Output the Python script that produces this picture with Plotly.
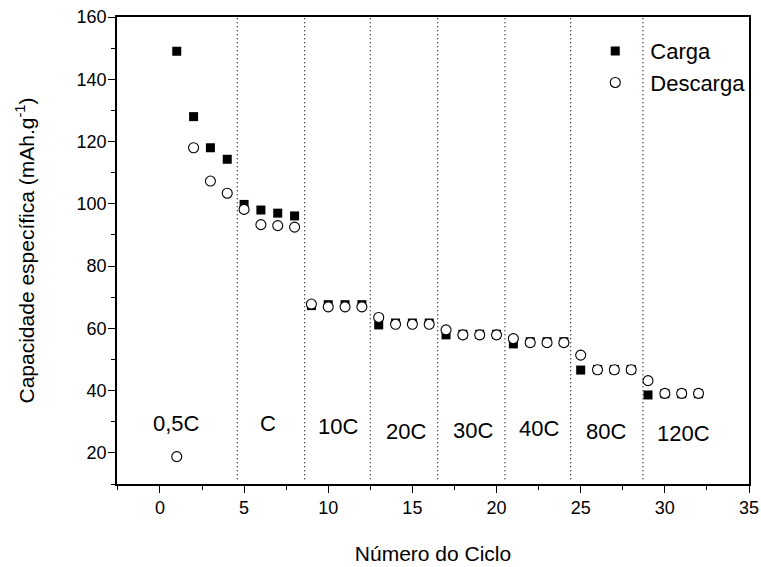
import plotly.graph_objects as go

# Cycle number and specific capacity (mAh/g) for charge and discharge
ciclos = list(range(1, 33))
carga = [149.0, 128.0, 118.0, 114.3, 99.8, 98.0, 97.0, 96.1,
         67.3, 67.6, 67.6, 67.6, 61.1, 61.7, 61.7, 61.7,
         57.9, 58.1, 58.1, 58.1, 55.0, 55.7, 55.7, 55.7,
         46.6, 46.8, 46.8, 46.8, 38.6, 39.0, 39.0, 39.0]
descarga = [18.8, 118.0, 107.3, 103.4, 98.2, 93.3, 93.0, 92.5,
            67.8, 66.9, 66.9, 66.9, 63.5, 61.3, 61.3, 61.3,
            59.5, 57.9, 57.9, 57.9, 56.7, 55.4, 55.4, 55.4,
            51.4, 46.7, 46.7, 46.7, 43.2, 39.1, 39.1, 39.1]

# C-rate regions: separators and labels
separadores = [4.6, 8.6, 12.5, 16.5, 20.5, 24.4, 28.7]
taxas = ["0,5C", "C", "10C", "20C", "30C", "40C", "80C", "120C"]
taxa_x = [1.0, 6.4, 10.6, 14.6, 18.6, 22.5, 26.5, 31.1]
taxa_y = [29.5, 29.5, 28.6, 27.0, 27.2, 27.8, 26.8, 26.2]

FONT = "Arial, Liberation Sans, sans-serif"

fig = go.Figure()
fig.add_trace(go.Scatter(
    x=ciclos, y=carga, mode="markers", name="Carga",
    marker=dict(symbol="square", size=9, color="black",
                line=dict(width=0)),
))
fig.add_trace(go.Scatter(
    x=ciclos, y=descarga, mode="markers", name="Descarga",
    marker=dict(symbol="circle", size=10, color="white",
                line=dict(width=1.1, color="black")),
))

for xs in separadores:
    fig.add_shape(type="line", x0=xs, x1=xs, y0=11.5, y1=160,
                  xref="x", yref="y",
                  line=dict(color="black", width=1.2, dash="1px,3px"))

for t, xt, yt in zip(taxas, taxa_x, taxa_y):
    fig.add_annotation(x=xt, y=yt, text=t, showarrow=False,
                       font=dict(family=FONT, size=22, color="black"))

fig.update_layout(
    width=761, height=567,
    margin=dict(l=117, r=12, t=17, b=83, autoexpand=False),
    paper_bgcolor="white", plot_bgcolor="white",
    font=dict(family=FONT, color="black"),
    showlegend=True,
    legend=dict(x=0.733, y=0.972, xanchor="left", yanchor="top",
                bgcolor="rgba(0,0,0,0)", font=dict(size=22, family=FONT),
                itemwidth=60, itemsizing="trace", tracegroupgap=0),
    xaxis=dict(
        range=[-2.55, 35], tick0=0, dtick=5, automargin=False,
        showline=True, linecolor="black", linewidth=1.6, mirror=True,
        ticks="outside", ticklen=7, tickwidth=1.4, tickcolor="black",
        minor=dict(dtick=2.5, tick0=0, ticks="outside", ticklen=4,
                   tickwidth=1.4, tickcolor="black"),
        showgrid=False, zeroline=False,
        tickfont=dict(size=18, family=FONT),
        title=dict(text="Número do Ciclo", font=dict(size=21, family=FONT),
                   standoff=29),
    ),
    yaxis=dict(
        range=[10, 160], tick0=0, dtick=20, automargin=False,
        showline=True, linecolor="black", linewidth=1.6, mirror=True,
        ticks="outside", ticklen=7, tickwidth=1.4, tickcolor="black",
        minor=dict(dtick=10, tick0=0, ticks="outside", ticklen=4,
                   tickwidth=1.4, tickcolor="black"),
        showgrid=False, zeroline=False,
        tickfont=dict(size=18, family=FONT), ticklabelstandoff=-2,
        title=dict(text="Capacidade específica (mAh.g<sup>-1</sup>)",
                   font=dict(size=21, family=FONT), standoff=36),
    ),
)

fig.write_html("out.html")
